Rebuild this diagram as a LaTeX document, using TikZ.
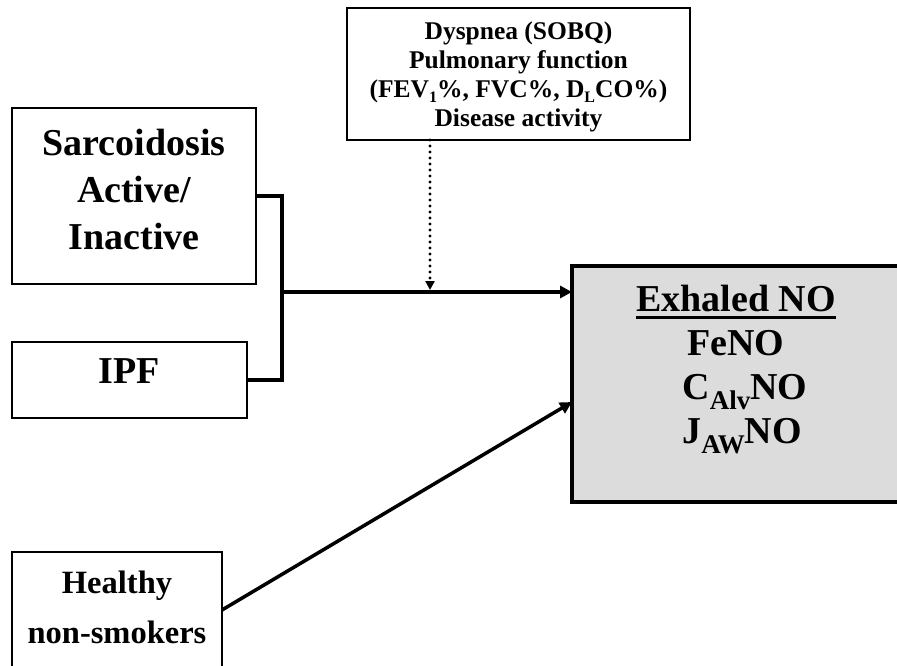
\documentclass[tikz,border=0pt]{standalone}
\usepackage{fontspec}
\setmainfont{Liberation Serif}
\usetikzlibrary{arrows.meta}
\definecolor{boxgray}{HTML}{DCDCDC}
\newcommand\subsm[1]{\raisebox{-5pt}{\fontsize{16}{16}\selectfont #1}}
\newcommand\subbg[1]{\raisebox{-10pt}{\fontsize{27}{27}\selectfont #1}}
\newcommand\ulbox[1]{\setbox0\hbox{#1}\rlap{\rule[-7pt]{\wd0}{3pt}}\box0}
\newcommand\liftlines[2]{\raisebox{#1}[\height][\depth]{\begin{tabular}{@{}c@{}}#2\end{tabular}}}
\begin{document}
\begin{tikzpicture}[x=1pt,y=-1pt,
  box/.style={draw, line width=2.2pt, inner sep=0pt, outer sep=0pt, align=center,
    anchor=north west, font=\fontsize{38}{47}\selectfont\bfseries},
  smallbox/.style={box, line width=2.5pt, font=\fontsize{25.5}{29}\selectfont\bfseries},
  outbox/.style={box, line width=4pt, fill=boxgray},
  conn/.style={line width=3.5pt},
  arr/.style={conn, -{Triangle[length=12pt,width=12pt]}},
  dotarr/.style={line width=3.2pt, line cap=round, dash pattern=on 0pt off 6pt,
    -{Triangle[length=9pt,width=9pt,line cap=butt]}, shorten >=2pt}]
\useasboundingbox (0,0) rectangle (897,666);
% boxes
\node[smallbox, minimum width=343pt, minimum height=132pt] (mod) at (347,8)
  {\liftlines{-3pt}{Dyspnea (SOBQ)\\Pulmonary function\\(FEV\subsm{1}\%, FVC\%, D\subsm{L}CO\%)\\Disease activity}};
\node[box, minimum width=244pt, minimum height=176pt] (sarc) at (12,108)
  {\liftlines{3pt}{Sarcoidosis\\Active/\\Inactive}};
\node[box, minimum width=235pt, minimum height=76pt] (ipf) at (12,342)
  {\raisebox{9pt}[\height][\depth]{IPF}};
\node[box, minimum width=210pt, minimum height=116pt,
  font=\fontsize{32.5}{50}\selectfont\bfseries] (hns) at (12,552)
  {\liftlines{2pt}{Healthy\\non-smokers}};
\node[outbox, minimum width=328pt, minimum height=236pt] (exh) at (572,266) {};
\node[anchor=north, inner sep=0pt, align=center, yshift=-19pt,
  font=\fontsize{38}{44}\selectfont\bfseries] (exht) at (exh.north)
  {\ulbox{Exhaled NO}\\FeNO\\\hspace*{18pt}C\subbg{Alv}NO\\\hspace*{12pt}J\subbg{AW}NO};
% connectors
\coordinate (j) at (282,292);
\coordinate (dtop) at (430,140);
\coordinate (hend) at ([yshift=-18pt]exh.west);
\draw[conn] (sarc.east) -| (j) |- (ipf.east);
\draw[arr] (j) -- (j -| exh.west);
\draw[dotarr] (dtop) -- (dtop |- j);
\draw[arr] (hns.east) -- (hend);
\end{tikzpicture}
\end{document}
